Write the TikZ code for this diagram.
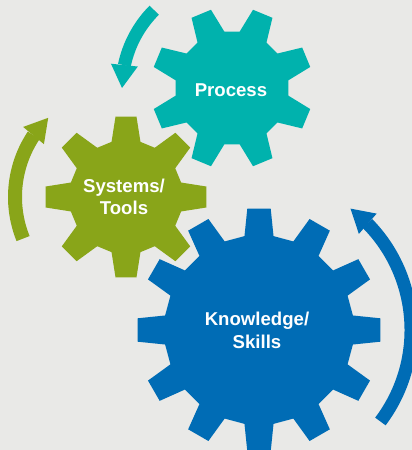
\documentclass[tikz,border=0pt]{standalone}
\usepackage{fontspec}
\setmainfont{Liberation Sans}
\usetikzlibrary{arrows.meta,bending}
\definecolor{bggray}{HTML}{E9E9E7}
\definecolor{procteal}{HTML}{00B2AD}
\definecolor{sysgreen}{HTML}{89A519}
\definecolor{knowblue}{HTML}{006CB5}
\tikzset{
  % --- gear labels ---
  gearlabel/.style={text=white, align=center,
                    font=\bfseries\fontsize{18.6}{22.5}\selectfont},
  % --- turning arrows round the gears ---
  turn/.style={line width=13pt,
               -{Triangle[length=23pt,width=27pt,line width=0pt]}},
}
% #1 style, #2 centre, #3 teeth, #4 first tooth angle,
% #5 root radius, #6 tip radius, #7 root half angle, #8 tip half angle
\newcommand{\drawgear}[8][]{%
  \begin{scope}[shift={(#2)}]
    \fill[#1] ({#4-#7}:#5)
      \foreach \k in {1,...,#3}{
        -- ({#4+(\k-1)*360/#3-#7}:#5) -- ({#4+(\k-1)*360/#3-#8}:#6)
        -- ({#4+(\k-1)*360/#3+#8}:#6) -- ({#4+(\k-1)*360/#3+#7}:#5)
      } -- cycle;
  \end{scope}}

\begin{document}
\begin{tikzpicture}[x=1pt,y=1pt]
  \useasboundingbox (0,0) rectangle (412,450);
  \clip (0,0) rectangle (412,450);
  \fill[bggray] (0,0) rectangle (412,450);

  % gear centres
  \coordinate (procc) at (232,362);
  \coordinate (sysc)  at (126,253);
  \coordinate (knowc) at (259,120);

  % gears
  \drawgear[fill=procteal]{procc}{8}{22.5}{57pt}{81pt}{14.7}{7.45}
  \drawgear[fill=sysgreen]{sysc}{8}{0}{57pt}{81pt}{14.7}{7.45}
  \drawgear[fill=knowblue]{knowc}{12}{0}{95pt}{122pt}{8.8}{5.5}

  % labels
  \node[gearlabel] (proc) at (231,360)   {Process};
  \node[gearlabel] (sys)  at (124,253)   {Systems/\\Tools};
  \node[gearlabel] (know) at (257,119.5) {Knowledge/\\Skills};

  % arrows showing the turning
  \draw[turn, procteal] ([shift={(135:110pt)}]procc)
        arc[start angle=135, end angle=180, radius=110pt];
  \draw[turn, sysgreen, line width=14pt] ([shift={(202:111pt)}]sysc)
        arc[start angle=202, end angle=134.5, radius=111pt];
  \draw[turn, knowblue] ([shift={(-37:152pt)}]knowc)
        arc[start angle=-37, end angle=53, radius=152pt];
\end{tikzpicture}
\end{document}
